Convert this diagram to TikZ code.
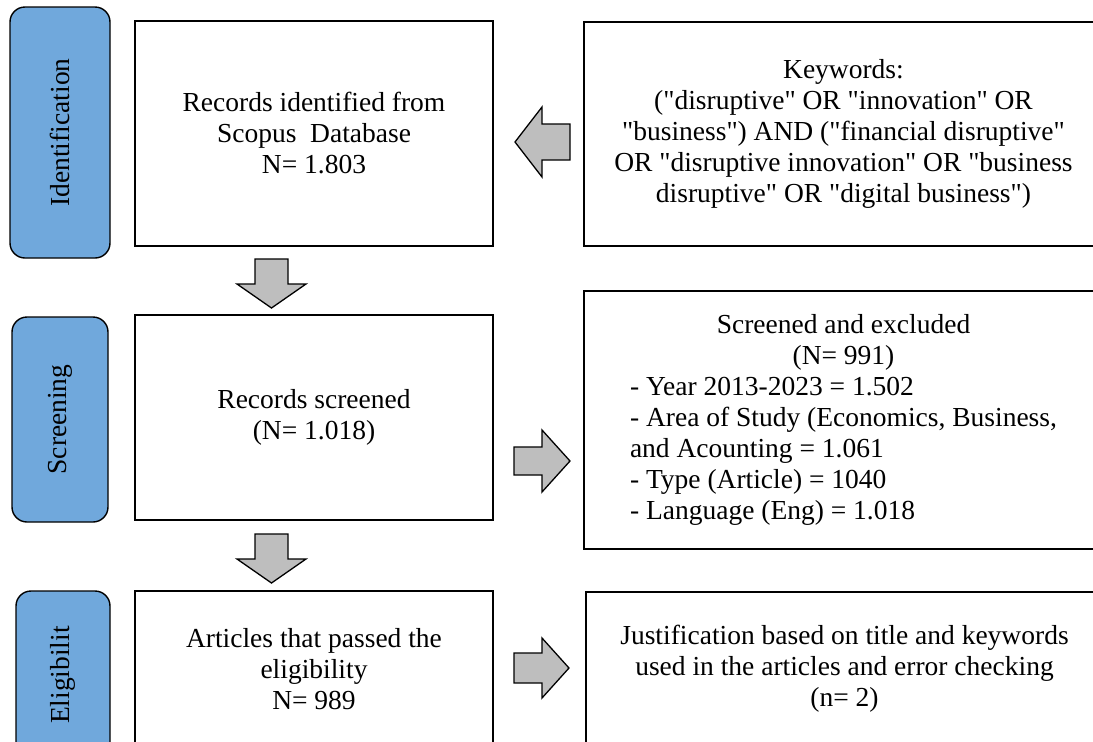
\documentclass[tikz,border=0pt]{standalone}
\usepackage{fontspec}
\setmainfont{Liberation Serif}[Ligatures=TeXOff]
\definecolor{lblblue}{RGB}{112,168,220}
\definecolor{arrgray}{RGB}{190,190,190}
\begin{document}
\begin{tikzpicture}[x=1pt,y=-1pt,
  every node/.style={font=\fontsize{27.5}{31}\selectfont},
  box/.style={draw=black, line width=1.4pt, fill=white, align=center, inner sep=0pt},
  phase/.style={draw=black, line width=1.4pt, fill=lblblue, rounded corners=15pt, rotate=90, inner sep=0pt},
  blockarrow/.style={draw=black, line width=1.3pt, fill=arrgray, line join=miter}]
\useasboundingbox (0,0) rectangle (1093,742);
\clip (0,0) rectangle (1093,742);
% phase labels
\node[phase, minimum width=251pt, minimum height=100pt] (pid) at (60,132.5) {Identification};
\node[phase, minimum width=205pt, minimum height=96pt] (psc) at (60,419.5) {Screening};
\node[phase, minimum width=168pt, minimum height=94pt] (pel) at (63,675) {Eligibilit};
% left column boxes
\node[box, minimum width=358pt, minimum height=225pt] (b1) at (314,133.5)
  {Records identified from\\Scopus\ \ Database\\N= 1.803};
\node[box, minimum width=358pt, minimum height=205pt] (b2) at (314,417.5)
  {Records screened\\(N= 1.018)};
\node[box, minimum width=358pt, minimum height=156pt] (b3) at (314,669)
  {Articles that passed the\\eligibility\\N= 989};
% right column boxes
\node[box, minimum width=519pt, minimum height=224pt] (kw) at (843.5,134)
  {Keywords:\\("disruptive" OR "innovation" OR\\"business") AND ("financial disruptive"\\OR "disruptive innovation" OR "business\\disruptive" OR "digital business")};
\node[box, minimum width=519pt, minimum height=258pt] (ex) at (843.5,420)
  {\begin{tabular}{@{}l@{}}
   \multicolumn{1}{@{}c@{}}{Screened and excluded}\\
   \multicolumn{1}{@{}c@{}}{(N= 991)}\\
   - Year 2013-2023 = 1.502\\
   - Area of Study (Economics, Business,\\
   and Acounting = 1.061\\
   - Type (Article) = 1040\\
   - Language (Eng) = 1.018
   \end{tabular}};
\node[box, minimum width=517pt, minimum height=154pt] (ju) at (844.5,669)
  {Justification based on title and keywords\\used in the articles and error checking\\(n= 2)};
% block arrows
\draw[blockarrow] (255,259) -- (288,259) -- (288,284) -- (306,284) -- (271.5,308) -- (237,284) -- (255,284) -- cycle;
\draw[blockarrow] (255,534) -- (288,534) -- (288,559) -- (306,559) -- (271.5,583) -- (237,559) -- (255,559) -- cycle;
\draw[blockarrow] (570,124) -- (542,124) -- (542,107) -- (515,142) -- (542,177) -- (542,160) -- (570,160) -- cycle;
\draw[blockarrow] (514,447) -- (542,447) -- (542,430) -- (570,461) -- (542,492) -- (542,475) -- (514,475) -- cycle;
\draw[blockarrow] (514,653) -- (542,653) -- (542,638) -- (569,668) -- (542,698) -- (542,683) -- (514,683) -- cycle;
\end{tikzpicture}
\end{document}
